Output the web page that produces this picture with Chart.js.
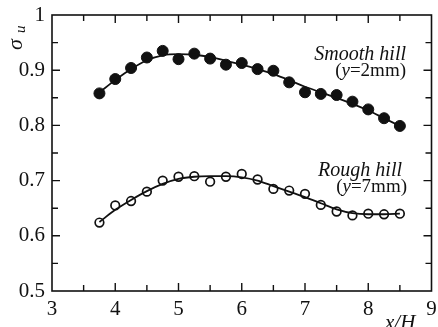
<!DOCTYPE html>
<html>
<head>
    <title>sigma u vs x/H</title>
    <script src="https://cdn.jsdelivr.net/npm/chart.js@4"></script>
    <style>
        body { margin: 0; background: #fff; }
        #wrap { width: 438px; height: 327px; position: relative; }
    </style>
</head>
<body>
    <div id="wrap"><canvas id="chart"></canvas></div>
    <script>
        // x/H positions of the measurement stations
        const xPos = [3.75, 4.0, 4.25, 4.5, 4.75, 5.0, 5.25, 5.5, 5.75, 6.0,
                      6.25, 6.5, 6.75, 7.0, 7.25, 7.5, 7.75, 8.0, 8.25, 8.5];
        // smooth hill (y=2mm), measured
        const smoothPts = [0.858, 0.884, 0.904, 0.923, 0.935, 0.920, 0.930, 0.921, 0.910, 0.913,
                           0.902, 0.899, 0.878, 0.860, 0.857, 0.855, 0.843, 0.829, 0.813, 0.799];
        // smooth hill fitted curve
        const smoothFit = [0.860, 0.882, 0.902, 0.918, 0.927, 0.929, 0.928, 0.924, 0.917, 0.910,
                           0.902, 0.893, 0.882, 0.870, 0.860, 0.850, 0.839, 0.827, 0.813, 0.799];
        // rough hill (y=7mm), measured
        const roughPts = [0.624, 0.655, 0.663, 0.680, 0.700, 0.707, 0.708, 0.698, 0.707, 0.712,
                          0.702, 0.685, 0.682, 0.676, 0.656, 0.644, 0.637, 0.640, 0.639, 0.640];
        // rough hill fitted curve
        const roughFit = [0.625, 0.647, 0.665, 0.681, 0.694, 0.703, 0.707, 0.708, 0.708, 0.706,
                          0.700, 0.690, 0.680, 0.670, 0.659, 0.648, 0.641, 0.639, 0.639, 0.640];
        const xTicks = [3, 4, 5, 6, 7, 8, 9];
        const yTicks = [0.5, 0.6, 0.7, 0.8, 0.9, 1];

        const SERIF = '"Liberation Serif", "Times New Roman", serif';

        function toXY(ys) {
            return xPos.map((x, i) => ({ x: x, y: ys[i] }));
        }

        // "(y=2mm)" with an italic y, right aligned
        function drawParen(ctx, tail, right, base) {
            const up = 'normal 19px ' + SERIF, it = 'italic 19px ' + SERIF;
            ctx.font = up;
            const wTail = ctx.measureText('=' + tail + ')').width;
            const wOpen = ctx.measureText('(').width;
            ctx.font = it;
            const wY = ctx.measureText('y').width;
            let x = right - wTail - wY - wOpen;
            ctx.textAlign = 'left';
            ctx.font = up; ctx.fillText('(', x, base); x += wOpen;
            ctx.font = it; ctx.fillText('y', x, base); x += wY;
            ctx.font = up; ctx.fillText('=' + tail + ')', x, base);
        }

        // frame, inward ticks and free text
        const decorPlugin = {
            id: 'decor',
            afterDraw(chart) {
                const ctx = chart.ctx;
                const a = chart.chartArea;
                const xs = chart.scales.x, ys = chart.scales.y;
                ctx.save();
                ctx.strokeStyle = '#111';
                ctx.lineWidth = 1.6;
                ctx.strokeRect(a.left, a.top, a.right - a.left, a.bottom - a.top);

                ctx.lineWidth = 1.4;
                ctx.beginPath();
                for (let v = 3.5; v < 9; v += 0.5) {
                    const px = xs.getPixelForValue(v);
                    const len = Number.isInteger(v) ? 8 : 6;
                    ctx.moveTo(px, a.bottom); ctx.lineTo(px, a.bottom - len);
                    ctx.moveTo(px, a.top); ctx.lineTo(px, a.top + len);
                }
                for (let v = 0.55; v < 0.999; v += 0.05) {
                    const py = ys.getPixelForValue(v);
                    const major = Math.abs(v * 10 - Math.round(v * 10)) < 1e-6;
                    const len = major ? 8 : 6;
                    ctx.moveTo(a.left, py); ctx.lineTo(a.left + len, py);
                    ctx.moveTo(a.right, py); ctx.lineTo(a.right - len, py);
                }
                ctx.stroke();

                ctx.fillStyle = '#111';
                ctx.textBaseline = 'alphabetic';
                ctx.textAlign = 'right';
                ctx.font = 'italic 20px ' + SERIF;
                ctx.fillText('Smooth hill', 406, 60);
                ctx.fillText('Rough hill', 402, 176);
                drawParen(ctx, '2mm', 406, 76);
                drawParen(ctx, '7mm', 407, 192);

                // x axis title
                ctx.textAlign = 'left';
                ctx.font = 'italic 21px ' + SERIF;
                ctx.fillText('x/H', 385, 329);

                // y axis title (sigma_u), rotated
                ctx.translate(22, 50);
                ctx.rotate(-Math.PI / 2);
                ctx.font = 'italic 22px ' + SERIF;
                ctx.fillText('\u03c3', 0, 0);
                ctx.font = 'italic 15px ' + SERIF;
                ctx.fillText('u', 17, 3);
                ctx.restore();
            }
        };

        new Chart(document.getElementById('chart'), {
            type: 'scatter',
            data: {
                datasets: [
                    { data: toXY(smoothFit), showLine: true, pointRadius: 0, borderColor: '#111',
                      borderWidth: 1.8, cubicInterpolationMode: 'monotone' },
                    { data: toXY(smoothPts), showLine: false, pointRadius: 5.5, pointBackgroundColor: '#111',
                      pointBorderColor: '#111', pointBorderWidth: 1 },
                    { data: toXY(roughFit), showLine: true, pointRadius: 0, borderColor: '#111',
                      borderWidth: 1.8, cubicInterpolationMode: 'monotone' },
                    { data: toXY(roughPts), showLine: false, pointRadius: 4.3, pointBackgroundColor: '#fff',
                      pointBorderColor: '#111', pointBorderWidth: 1.7 }
                ]
            },
            options: {
                responsive: true,
                maintainAspectRatio: false,
                animation: false,
                layout: { padding: { top: 15, right: 0, left: 0, bottom: 0 } },
                plugins: { legend: { display: false }, tooltip: { enabled: false } },
                scales: {
                    x: {
                        type: 'linear', min: 3, max: 9,
                        afterFit: s => { s.height = 36; s.paddingLeft = 0; s.paddingRight = 0; },
                        afterBuildTicks: s => { s.ticks = xTicks.map(v => ({ value: v })); },
                        grid: { display: false, drawTicks: false },
                        border: { display: false },
                        ticks: { color: '#111', padding: 6, maxRotation: 0, autoSkip: false,
                                 font: { family: SERIF, size: 21 } }
                    },
                    y: {
                        min: 0.5, max: 1,
                        afterFit: s => { s.width = 52; s.paddingTop = 0; s.paddingBottom = 0; },
                        afterBuildTicks: s => { s.ticks = yTicks.map(v => ({ value: v })); },
                        grid: { display: false, drawTicks: false },
                        border: { display: false },
                        ticks: { color: '#111', padding: 7, autoSkip: false,
                                 font: { family: SERIF, size: 21 },
                                 callback: v => String(Math.round(v * 10) / 10) }
                    }
                }
            },
            plugins: [decorPlugin]
        });
    </script>
</body>
</html>
